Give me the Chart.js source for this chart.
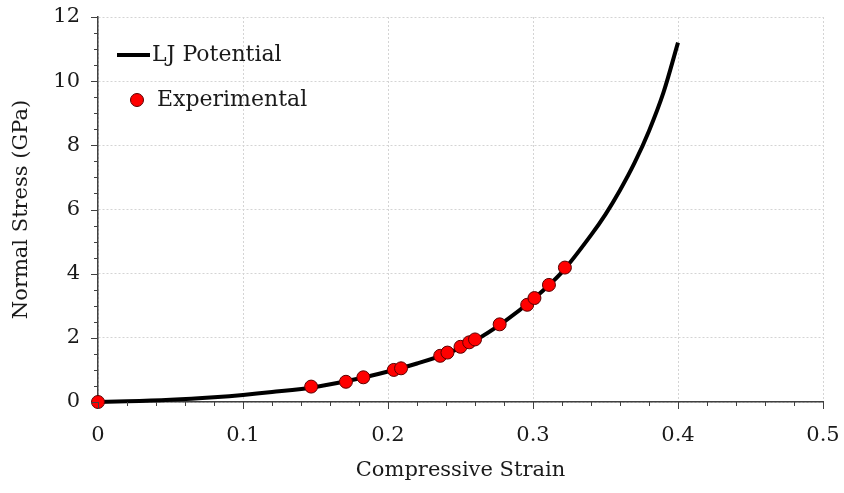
<!DOCTYPE html>
<html>
<head>
<meta charset="utf-8">
<script src="https://cdn.jsdelivr.net/npm/chart.js@4.4.0/dist/chart.umd.min.js"></script>
<style>
  html, body { margin: 0; padding: 0; background: #fff; }
  #chart-body { width: 844px; height: 493px; }
</style>
</head>
<body>
<div id="chart-body">
  <canvas id="myChart" width="844" height="493"></canvas>
</div>
<script>
// LJ potential curve
const ljStrain = [0, 0.02, 0.05, 0.08, 0.10, 0.12, 0.15, 0.18, 0.20, 0.22, 0.24, 0.26, 0.28, 0.30, 0.32, 0.34, 0.35, 0.36, 0.37, 0.38, 0.39, 0.40];
const ljStress = [0, 0.02, 0.07, 0.15, 0.22, 0.31, 0.47, 0.73, 0.95, 1.20, 1.50, 1.92, 2.50, 3.20, 4.05, 5.20, 5.85, 6.60, 7.45, 8.45, 9.65, 11.20];

// experimental points
const expStrain = [0, 0.147, 0.171, 0.183, 0.204, 0.209, 0.236, 0.241, 0.250, 0.256, 0.260, 0.277, 0.296, 0.301, 0.311, 0.322];
const expStress = [0, 0.48, 0.63, 0.77, 1.00, 1.05, 1.44, 1.54, 1.72, 1.86, 1.95, 2.42, 3.03, 3.24, 3.65, 4.19];

const xTickLabels = ['0', '0.1', '0.2', '0.3', '0.4', '0.5'];
const yTickLabels = ['0', '2', '4', '6', '8', '10', '12'];

Chart.defaults.font.family = "'DejaVu Serif', serif";
Chart.defaults.font.size = 21;
Chart.defaults.color = '#1a1a1a';

// outward major/minor tick marks on both axes
const tickMarks = {
  id: 'tickMarks',
  afterDraw(chart) {
    const { ctx, scales: { x, y } } = chart;
    ctx.save();
    ctx.strokeStyle = '#404040';
    ctx.lineWidth = 1;
    for (let i = 0; i <= 25; i++) {
      const px = Math.round(x.getPixelForValue(i * 0.02)) + 0.5;
      const len = i % 5 === 0 ? 7 : 4;
      ctx.beginPath();
      ctx.moveTo(px, y.bottom);
      ctx.lineTo(px, y.bottom + len);
      ctx.stroke();
    }
    for (let i = 0; i <= 24; i++) {
      const py = Math.round(y.getPixelForValue(i * 0.5)) + 0.5;
      const len = i % 4 === 0 ? 7 : 4;
      ctx.beginPath();
      ctx.moveTo(x.left, py);
      ctx.lineTo(x.left - len, py);
      ctx.stroke();
    }
    ctx.restore();
  }
};

// legend drawn inside the plot area, top left
const innerLegend = {
  id: 'innerLegend',
  afterDraw(chart) {
    const { ctx, chartArea } = chart;
    const line = chart.data.datasets[0];
    const pts = chart.data.datasets[1];
    const lx = chartArea.left + 19;
    const ly1 = chartArea.top + 38;
    const ly2 = chartArea.top + 83;
    ctx.save();
    ctx.strokeStyle = line.borderColor;
    ctx.lineWidth = line.borderWidth;
    ctx.beginPath();
    ctx.moveTo(lx, ly1);
    ctx.lineTo(lx + 33, ly1);
    ctx.stroke();
    ctx.beginPath();
    ctx.arc(lx + 20, ly2, 6.5, 0, Math.PI * 2);
    ctx.fillStyle = pts.backgroundColor;
    ctx.fill();
    ctx.lineWidth = 1;
    ctx.strokeStyle = pts.borderColor;
    ctx.stroke();
    ctx.fillStyle = '#1a1a1a';
    ctx.font = "22px 'DejaVu Serif', serif";
    ctx.textBaseline = 'middle';
    ctx.fillText(line.label, lx + 35, ly1);
    ctx.fillText(pts.label, lx + 40, ly2);
    ctx.restore();
  }
};

new Chart(document.getElementById('myChart'), {
  type: 'scatter',
  data: {
    datasets: [
      {
        label: 'LJ Potential',
        data: ljStrain.map((s, i) => ({ x: s, y: ljStress[i] })),
        showLine: true,
        borderColor: '#000000',
        borderWidth: 4,
        pointRadius: 0,
        cubicInterpolationMode: 'monotone',
        clip: false,
        order: 2
      },
      {
        label: 'Experimental',
        data: expStrain.map((s, i) => ({ x: s, y: expStress[i] })),
        backgroundColor: '#ff0000',
        borderColor: '#5a0000',
        borderWidth: 1,
        pointRadius: 6.5,
        clip: false,
        order: 1
      }
    ]
  },
  options: {
    responsive: false,
    animation: false,
    devicePixelRatio: 1,
    layout: { padding: { top: 17, right: 21, left: 0, bottom: 0 } },
    plugins: {
      legend: { display: false },
      tooltip: { enabled: false }
    },
    scales: {
      x: {
        type: 'linear',
        min: 0,
        max: 0.5,
        afterFit(scale) {
          scale.height = 91;
          scale.paddingLeft = 0;
          scale.paddingRight = 0;
        },
        ticks: {
          stepSize: 0.1,
          padding: 21,
          callback: (v, i) => xTickLabels[i]
        },
        grid: { color: '#d4d4d4', lineWidth: 1, drawTicks: false },
        border: { color: '#404040', width: 1.5, dash: [2, 2] },
        title: { display: true, text: 'Compressive Strain', padding: { top: 4, bottom: 10 } }
      },
      y: {
        type: 'linear',
        min: 0,
        max: 12,
        afterFit(scale) {
          scale.width = 98;
          scale.paddingTop = 0;
          scale.paddingBottom = 0;
        },
        ticks: {
          stepSize: 2,
          padding: 18,
          callback: (v, i) => yTickLabels[i]
        },
        grid: { color: '#d4d4d4', lineWidth: 1, drawTicks: false },
        border: { color: '#404040', width: 1.5, dash: [2, 2] },
        title: { display: true, text: 'Normal Stress (GPa)', padding: { top: 9, bottom: 4 } }
      }
    }
  },
  plugins: [tickMarks, innerLegend]
});
</script>
</body>
</html>
